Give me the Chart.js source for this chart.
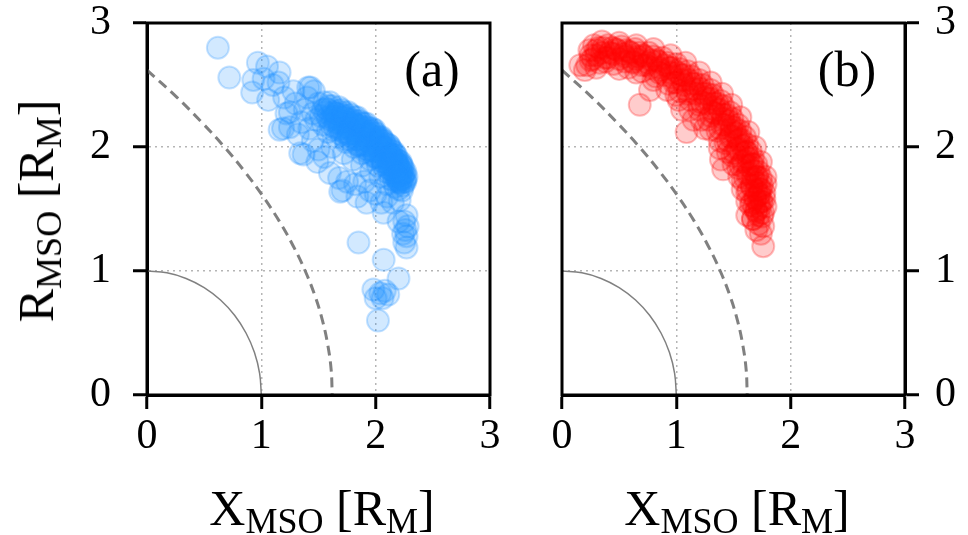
<!DOCTYPE html>
<html lang="en">
<head>
<meta charset="UTF-8">
<title>MSO crossings</title>
<script src="https://cdn.jsdelivr.net/npm/chart.js"></script>
<style>
  html, body { margin: 0; padding: 0; background: #fff; }
  .wrap { position: relative; width: 968px; height: 535px; overflow: hidden; }
  .wrap canvas { position: absolute; top: 0; }
  .axlab {
    position: absolute;
    font-family: "Liberation Serif", serif;
    font-size: 50px;
    color: #000;
    white-space: nowrap;
    line-height: 1;
    transform: translate(-50%, -50%);
  }
  .axlab.rot { transform: translate(-50%, -50%) rotate(-90deg); }
  .axlab sub { font-size: 0.72em; vertical-align: -0.22em; line-height: 0; }
</style>
</head>
<body>
<div class="wrap">
  <canvas id="panelA" style="left:0px"></canvas>
  <canvas id="panelB" style="left:520px"></canvas>
  <div class="axlab rot" style="left:36px; top:211px">R<sub>MSO</sub> [R<sub>M</sub>]</div>
  <div class="axlab" style="left:322px; top:508px">X<sub>MSO</sub> [R<sub>M</sub>]</div>
  <div class="axlab" style="left:737px; top:508px">X<sub>MSO</sub> [R<sub>M</sub>]</div>
</div>

<script>
// axis ticks
const tickValues = [0, 1, 2, 3];

// planet surface (r = 1)
const surfaceX = [0, 0.174, 0.342, 0.5, 0.643, 0.766, 0.866, 0.940, 0.985, 1];
const surfaceY = [1, 0.985, 0.940, 0.866, 0.766, 0.643, 0.5, 0.342, 0.174, 0];

// dashed boundary curve
const boundX = [0, 0.262, 0.478, 0.677, 0.856, 1.016, 1.158, 1.280, 1.384, 1.469, 1.535, 1.582, 1.611, 1.62];
const boundY = [2.62, 2.4, 2.2, 2.0, 1.8, 1.6, 1.4, 1.2, 1.0, 0.8, 0.6, 0.4, 0.2, 0];

// (a) crossings
const aX = [
  0.62, 0.72, 0.97, 0.93, 1.16, 1.06, 0.92, 1.43, 1.16, 1.25, 1.34, 1.54, 1.22, 1.41, 1.19, 1.37, 1.49,
  1.30, 1.38, 1.45, 1.35, 1.42, 1.48, 1.25, 1.20, 1.28, 1.10, 1.02, 1.05, 1.15, 1.32, 1.45, 1.50, 1.55, 1.40, 1.50, 1.46,
  1.55, 1.62, 1.70, 1.78, 1.86, 1.93, 2.00, 2.07, 2.13, 2.18, 2.22, 2.25, 2.26,
  1.52, 1.60, 1.68, 1.76, 1.83, 1.90, 1.97, 2.04, 2.10, 2.15, 2.19, 2.22, 2.23,
  1.58, 1.66, 1.74, 1.81, 1.88, 1.95, 2.02, 2.08, 2.13, 2.17,
  1.62, 1.72, 1.80, 1.88, 1.96, 2.04, 2.10,
  1.58, 1.66, 1.74, 1.82, 1.89, 1.96, 2.03, 2.09, 2.14, 2.19, 2.21, 2.24,
  1.64, 1.72, 1.79, 1.86, 1.93, 2.00, 2.06, 2.11, 2.16, 2.20,
  1.70, 1.80, 1.90, 2.00, 2.06, 2.12, 2.17, 2.22, 1.85, 1.95,
  1.56, 1.64, 1.72, 1.80, 1.87, 1.94, 2.01, 2.07, 2.12, 2.17, 2.20, 2.24,
  1.60, 1.68, 1.76, 1.84, 1.92, 1.99, 2.05, 2.11, 2.16, 2.20, 2.24, 2.27,
  1.54, 1.62, 1.70, 1.78, 1.85, 1.92, 1.99, 2.06, 2.12, 2.16, 2.20,
  1.66, 1.74, 1.82, 1.90, 1.98, 2.04, 2.10, 2.15, 2.19, 2.23,
  1.63, 1.71, 1.79, 1.87, 1.95, 2.02, 2.08, 2.14, 2.18, 2.23,
  1.58, 1.65, 1.73, 1.81, 1.88, 1.95, 2.02, 2.08, 2.14, 2.18, 2.21,
  1.59, 1.67, 1.75, 1.83, 1.91, 1.98, 2.04, 2.10, 2.15, 2.19, 2.23, 2.26,
  1.68, 1.76, 1.84, 1.91, 1.98, 2.05, 2.11, 2.16, 2.19,
  1.75, 1.85, 1.92, 2.01, 2.08, 2.13, 2.18, 2.22, 1.88, 1.97,
  1.62, 1.70, 1.78, 1.86, 1.94, 2.02, 2.09, 2.14, 2.20, 2.24,
  1.57, 1.65, 1.73, 1.81, 1.89, 1.96, 2.03, 2.09, 2.14, 2.19, 2.22, 2.25,
  1.61, 1.69, 1.77, 1.85, 1.92, 1.99, 2.06, 2.12, 2.17, 2.21,
  1.72, 1.82, 1.90, 1.98, 2.05, 2.12, 2.17, 2.22, 2.26,
  1.74, 1.84, 1.92, 2.00, 2.07, 2.13, 2.18,
  1.60, 1.68, 1.75, 1.82, 1.90, 1.95, 2.00, 1.71, 1.84, 1.92, 2.05, 2.10, 2.15, 2.21, 2.07, 2.27, 2.25, 1.69,
  2.26, 2.27, 2.25, 2.27, 2.24, 2.28, 2.20, 1.85, 2.07, 2.20, 2.04, 2.11, 1.98, 2.02, 2.06, 2.00, 2.08
];
const aY = [
  2.80, 2.56, 2.68, 2.54, 2.60, 2.38, 2.44, 2.48, 2.14, 2.16, 1.95, 2.30, 2.27, 2.48, 2.15, 1.94, 1.88,
  2.35, 2.30, 2.27, 2.20, 2.15, 2.22, 2.28, 2.40, 2.45, 2.50, 2.55, 2.65, 2.52, 2.10, 2.05, 1.98, 1.92, 2.40, 2.35, 2.45,
  2.36, 2.33, 2.30, 2.26, 2.21, 2.16, 2.11, 2.05, 1.99, 1.93, 1.86, 1.79, 1.72,
  2.25, 2.22, 2.19, 2.15, 2.10, 2.06, 2.01, 1.96, 1.90, 1.84, 1.78, 1.71, 1.65,
  2.12, 2.08, 2.04, 2.00, 1.95, 1.90, 1.85, 1.80, 1.74, 1.68,
  2.00, 1.95, 1.90, 1.85, 1.80, 1.76, 1.70,
  2.30, 2.27, 2.23, 2.18, 2.13, 2.08, 2.03, 1.97, 1.92, 1.86, 1.80, 1.75,
  2.16, 2.12, 2.08, 2.02, 1.98, 1.93, 1.88, 1.83, 1.77, 1.72,
  2.24, 2.20, 2.12, 2.05, 2.00, 1.95, 1.88, 1.82, 2.15, 2.10,
  2.28, 2.25, 2.21, 2.17, 2.12, 2.07, 2.02, 1.96, 1.90, 1.83, 1.76, 1.69,
  2.36, 2.32, 2.28, 2.24, 2.19, 2.14, 2.08, 2.02, 1.96, 1.89, 1.83, 1.76,
  2.18, 2.14, 2.10, 2.06, 2.01, 1.96, 1.92, 1.86, 1.79, 1.73, 1.66,
  2.22, 2.18, 2.13, 2.09, 2.04, 1.99, 1.93, 1.87, 1.81, 1.74,
  2.28, 2.26, 2.22, 2.17, 2.13, 2.08, 2.03, 1.97, 1.90, 1.85,
  2.24, 2.20, 2.16, 2.11, 2.07, 2.03, 1.98, 1.92, 1.86, 1.80, 1.74,
  2.33, 2.29, 2.25, 2.21, 2.16, 2.11, 2.06, 2.00, 1.94, 1.87, 1.80, 1.74,
  2.14, 2.10, 2.06, 2.01, 1.97, 1.91, 1.86, 1.80, 1.73,
  2.20, 2.17, 2.09, 2.07, 1.99, 1.93, 1.85, 1.77, 2.19, 2.15,
  2.24, 2.20, 2.15, 2.09, 2.04, 2.00, 1.95, 1.90, 1.84, 1.78,
  2.31, 2.27, 2.24, 2.19, 2.15, 2.10, 2.05, 1.99, 1.93, 1.86, 1.79, 1.72,
  2.18, 2.15, 2.11, 2.06, 2.02, 1.97, 1.92, 1.86, 1.79, 1.72,
  2.28, 2.24, 2.19, 2.13, 2.07, 2.01, 1.94, 1.88, 1.80,
  2.06, 2.02, 1.98, 1.92, 1.88, 1.82, 1.76,
  1.79, 1.75, 1.72, 1.70, 1.72, 1.65, 1.62, 1.65, 1.60, 1.55, 1.55, 1.60, 1.55, 1.57, 1.47, 1.45, 1.40, 1.64,
  1.33, 1.28, 1.23, 1.19, 1.30, 1.36, 1.40, 1.23, 1.09, 0.94, 0.82, 0.81, 0.85, 0.60, 0.78, 0.78, 0.84
];

// (b) crossings
const bX = [
  0.25, 0.35, 0.45, 0.55, 0.65, 0.75, 0.85, 0.95, 1.05, 1.15, 1.25, 1.33, 1.41, 1.48, 1.54, 1.59, 1.63, 1.67, 1.70, 1.72, 1.72,
  0.28, 0.40, 0.52, 0.64, 0.76, 0.88, 1.00, 1.10, 1.20, 1.30, 1.39, 1.47, 1.54, 1.60, 1.65, 1.70, 1.74, 1.77, 1.78,
  0.22, 0.33, 0.45, 0.58, 0.70, 0.82, 0.93, 1.03, 1.12, 1.20, 1.28, 1.36, 1.43, 1.49, 1.54, 1.58, 1.62, 1.65, 1.67,
  0.30, 0.48, 0.60, 0.72, 0.84, 0.96, 1.07, 1.17, 1.27, 1.36, 1.44, 1.51, 1.57, 1.62, 1.67, 1.71, 1.74, 1.75,
  0.25, 0.40, 0.62, 0.78, 0.90, 1.00, 1.10, 1.22, 1.32, 1.40, 1.47, 1.53, 1.58, 1.62, 1.66, 1.69,
  0.32, 0.44, 0.56, 0.68, 0.80, 0.92, 1.03, 1.13, 1.23, 1.32, 1.41, 1.49, 1.56, 1.62, 1.67, 1.72, 1.75, 1.77, 1.76,
  0.27, 0.38, 0.50, 0.62, 0.74, 0.86, 0.97, 1.07, 1.17, 1.26, 1.34, 1.42, 1.48, 1.54, 1.59, 1.63, 1.66, 1.69, 1.70,
  0.35, 0.50, 0.65, 0.80, 0.95, 1.08, 1.20, 1.30, 1.40, 1.48, 1.56, 1.63, 1.69, 1.74, 1.78,
  0.30, 0.50, 0.65, 0.80, 0.92, 1.02, 1.12, 1.22, 1.30, 1.38, 1.45, 1.50, 1.55, 1.58, 1.62,
  0.30, 0.42, 0.54, 0.66, 0.78, 0.90, 1.01, 1.11, 1.21, 1.30, 1.38, 1.46, 1.52, 1.58, 1.63, 1.67, 1.70, 1.72, 1.73,
  0.24, 0.36, 0.47, 0.59, 0.71, 0.83, 0.94, 1.04, 1.14, 1.24, 1.33, 1.41, 1.49, 1.55, 1.61, 1.66, 1.70, 1.73, 1.74,
  0.38, 0.55, 0.70, 0.85, 0.98, 1.10, 1.20, 1.30, 1.38, 1.45, 1.51, 1.56, 1.60, 1.63, 1.66,
  1.72, 1.70, 1.75, 1.68, 1.73, 1.78,
  0.16, 0.20, 0.68, 0.77, 1.09, 1.00, 1.15, 1.38, 1.41, 1.39, 1.62, 1.67, 1.76, 1.74, 1.76, 1.70, 1.05, 1.25
];
const bY = [
  2.74, 2.76, 2.75, 2.73, 2.71, 2.68, 2.64, 2.60, 2.54, 2.47, 2.40, 2.32, 2.23, 2.14, 2.05, 1.95, 1.85, 1.75, 1.65, 1.55, 1.45,
  2.82, 2.82, 2.81, 2.79, 2.76, 2.72, 2.67, 2.61, 2.54, 2.46, 2.37, 2.28, 2.18, 2.08, 1.97, 1.86, 1.75, 1.63, 1.52,
  2.66, 2.68, 2.67, 2.64, 2.61, 2.57, 2.51, 2.45, 2.38, 2.30, 2.22, 2.13, 2.03, 1.93, 1.83, 1.73, 1.63, 1.53, 1.42,
  2.78, 2.78, 2.76, 2.73, 2.69, 2.64, 2.58, 2.51, 2.43, 2.35, 2.26, 2.16, 2.06, 1.96, 1.86, 1.76, 1.66, 1.56,
  2.70, 2.72, 2.68, 2.64, 2.58, 2.52, 2.45, 2.36, 2.28, 2.18, 2.08, 1.98, 1.88, 1.78, 1.68, 1.58,
  2.80, 2.80, 2.78, 2.76, 2.73, 2.68, 2.63, 2.57, 2.50, 2.42, 2.33, 2.23, 2.13, 2.02, 1.91, 1.80, 1.69, 1.58, 1.47,
  2.71, 2.72, 2.71, 2.69, 2.66, 2.62, 2.56, 2.50, 2.43, 2.35, 2.27, 2.18, 2.09, 1.99, 1.89, 1.79, 1.69, 1.59, 1.49,
  2.85, 2.84, 2.82, 2.79, 2.74, 2.68, 2.60, 2.52, 2.43, 2.34, 2.24, 2.12, 2.00, 1.88, 1.76,
  2.64, 2.63, 2.60, 2.54, 2.46, 2.38, 2.30, 2.22, 2.14, 2.05, 1.96, 1.86, 1.76, 1.66, 1.56,
  2.74, 2.76, 2.75, 2.73, 2.70, 2.66, 2.60, 2.54, 2.47, 2.39, 2.30, 2.21, 2.11, 2.01, 1.91, 1.81, 1.71, 1.61, 1.51,
  2.78, 2.80, 2.79, 2.77, 2.74, 2.70, 2.64, 2.58, 2.51, 2.43, 2.35, 2.26, 2.16, 2.06, 1.96, 1.86, 1.76, 1.66, 1.56,
  2.69, 2.69, 2.66, 2.60, 2.52, 2.43, 2.34, 2.25, 2.15, 2.05, 1.95, 1.85, 1.75, 1.65, 1.55,
  1.38, 1.33, 1.44, 1.52, 1.62, 1.70,
  2.66, 2.62, 2.34, 2.46, 2.12, 2.42, 2.22, 1.99, 1.82, 1.90, 1.45, 1.42, 1.20, 1.30, 1.36, 1.48, 2.30, 2.15
];

const serif = '"Liberation Serif", serif';
const toPoints = (xs, ys) => xs.map((x, i) => ({ x: x, y: ys[i] }));

// box around the plot area and the panel letter
const framePlugin = {
  id: 'frame',
  afterDatasetsDraw(chart, args, opts) {
    const { ctx, chartArea: a } = chart;
    ctx.save();
    ctx.strokeStyle = '#000';
    ctx.lineWidth = 3;
    ctx.strokeRect(a.left, a.top, a.right - a.left, a.bottom - a.top);
    ctx.fillStyle = '#000';
    ctx.font = '50px ' + serif;
    ctx.textAlign = 'center';
    ctx.textBaseline = 'middle';
    ctx.fillText(opts.label, a.right - 58, a.top + 50);
    ctx.restore();
  }
};

function gridColor(c) {
  const v = c.tick ? c.tick.value : null;
  return (v === 0 || v === 3) ? 'rgba(0,0,0,0)' : '#b5b5b5';
}

function axis(position, pad, fit) {
  return {
    type: 'linear',
    position: position,
    min: 0,
    max: 3,
    afterBuildTicks: s => { s.ticks = tickValues.map(v => ({ value: v })); },
    afterFit: fit,
    ticks: { color: '#000', font: { family: serif, size: 42 }, maxRotation: 0, padding: pad },
    grid: { color: gridColor, lineWidth: 1.5, tickColor: '#000', tickWidth: 3, tickLength: 14 },
    border: { color: '#000', width: 3, dash: [2, 4] }
  };
}

function makePanel(id, pts, fill, edge, label, yPos, yPad, padding, yWidth) {
  const ySpec = axis(yPos, yPad, s => {
    s.width = yWidth;
    s.paddingTop = 0;
    s.paddingBottom = 0;
  });
  const xSpec = axis('bottom', 3, s => {
    s.height = 140;
    s.paddingLeft = 0;
    s.paddingRight = 0;
  });

  return new Chart(document.getElementById(id), {
    type: 'scatter',
    data: {
      datasets: [
        {
          data: toPoints(surfaceX, surfaceY),
          showLine: true, pointRadius: 0, borderColor: '#808080', borderWidth: 1.5, tension: 0.4
        },
        {
          data: toPoints(boundX, boundY),
          showLine: true, pointRadius: 0, borderColor: '#808080', borderWidth: 3,
          borderDash: [10, 6], tension: 0.4
        },
        {
          data: pts,
          pointRadius: 11, backgroundColor: fill, borderColor: edge, borderWidth: 2
        }
      ]
    },
    options: {
      responsive: false,
      animation: false,
      events: [],
      layout: { padding: padding },
      scales: { x: xSpec, y: ySpec },
      plugins: {
        legend: { display: false },
        tooltip: { enabled: false },
        frame: { label: label }
      }
    },
    plugins: [framePlugin]
  });
}

const cA = document.getElementById('panelA');
cA.width = 520; cA.height = 535;
const cB = document.getElementById('panelB');
cB.width = 448; cB.height = 535;

makePanel('panelA', toPoints(aX, aY), 'rgba(30,144,255,0.2)', 'rgba(30,144,255,0.25)', '(a)',
  'left', 22, { left: 0, right: 30, top: 23, bottom: 0 }, 147);
makePanel('panelB', toPoints(bX, bY), 'rgba(255,0,0,0.2)', 'rgba(255,0,0,0.25)', '(b)',
  'right', 16, { left: 42, right: 0, top: 23, bottom: 0 }, 63);
</script>
</body>
</html>
